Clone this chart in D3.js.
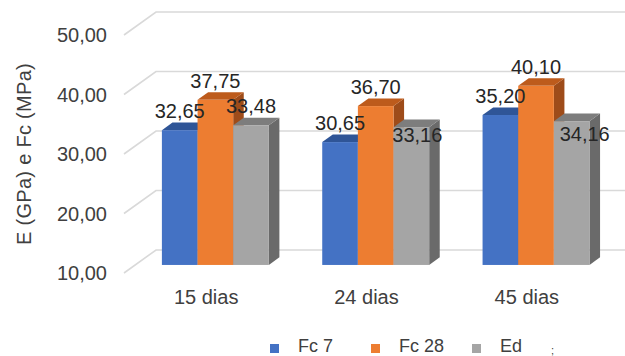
<!DOCTYPE html>
<html>
<head>
<meta charset="utf-8">
<script src="https://cdn.jsdelivr.net/npm/d3@7/dist/d3.min.js"></script>
<style>
  html, body { margin: 0; padding: 0; background: #fff; }
  svg { display: block; font-family: Arial, "Liberation Sans", sans-serif; }
</style>
</head>
<body>
<svg id="chart" width="625" height="356"></svg>
<script>
// Ages of the specimens
const categories = ["15 dias", "24 dias", "45 dias"];
// Series
const seriesNames = ["Fc 7", "Fc 28", "Ed"];
const fc7  = [32.65, 30.65, 35.20];
const fc28 = [37.75, 36.70, 40.10];
const ed   = [33.48, 33.16, 34.16];
// Value axis
const yTicks = [10, 20, 30, 40, 50];
const yDomain = [10, 50];

const seriesValues = [fc7, fc28, ed];

// Face colours: front, top, side
const palette = [
  { front: "#4472C4", top: "#2F5597", side: "#284A86" },
  { front: "#ED7D31", top: "#BD5B1C", side: "#9E4C1A" },
  { front: "#A5A5A5", top: "#7D7D7D", side: "#6A6A6A" }
];

const svg = d3.select("#chart");
const W = 625, H = 356;

// Oblique projection of the 3-D plot box
const DX = 32, DY = -23;          // full wall depth offset
const zBar = 0.35, zDepth = 0.33;  // bar front plane and bar thickness (fraction of depth)

const x = d3.scaleBand().domain(categories).range([124, 605]).padding(0);
const y = d3.scaleLinear().domain(yDomain).range([273, 35]);
const groupFrac = 0.667;
const inner = d3.scaleBand().domain(seriesNames).range([0, x.bandwidth() * groupFrac]).padding(0);

const px = (xv, z) => xv + z * DX;
const py = (v, z) => y(v) + z * DY;

const loc = d3.formatLocale({ decimal: ",", thousands: ".", grouping: [3], currency: ["", ""] });
const fmt = loc.format(".2f");

// Gridlines: slanted on the left wall, horizontal on the back wall
const grid = svg.append("g").attr("stroke", "#D9D9D9").attr("stroke-width", 1.6).attr("fill", "none");
yTicks.forEach(t => {
  grid.append("path").attr("d",
    `M${px(x.range()[0], 0)},${py(t, 0)} L${px(x.range()[0], 1)},${py(t, 1)} L${px(x.range()[1], 1)},${py(t, 1)}`);
});

// Y tick labels
svg.append("g").selectAll("text").data(yTicks).join("text")
  .attr("x", 107).attr("y", d => y(d)).attr("dy", "0.36em")
  .attr("text-anchor", "end").attr("font-size", 20).attr("fill", "#404040")
  .text(d => fmt(d));

// Y axis title
svg.append("text")
  .attr("transform", "translate(31,154) rotate(-90)")
  .attr("text-anchor", "middle").attr("font-size", 20).attr("fill", "#404040")
  .attr("letter-spacing", 0.3)
  .text("E (GPa) e Fc (MPa)");

// Bars as prisms
const bars = svg.append("g");
const labelData = [];
categories.forEach((cat, ci) => {
  const gx = x(cat) + (x.bandwidth() * (1 - groupFrac)) / 2;
  seriesNames.forEach((s, si) => {
    const v = seriesValues[si][ci];
    const x0 = gx + inner(s), x1 = x0 + inner.bandwidth();
    const z0 = zBar, z1 = zBar + zDepth;
    const c = palette[si];
    const g = bars.append("g");
    // side face
    g.append("path").attr("fill", c.side).attr("d",
      `M${px(x1, z0)},${py(yDomain[0], z0)} L${px(x1, z1)},${py(yDomain[0], z1)} L${px(x1, z1)},${py(v, z1)} L${px(x1, z0)},${py(v, z0)}Z`);
    // top face
    g.append("path").attr("fill", c.top).attr("d",
      `M${px(x0, z0)},${py(v, z0)} L${px(x1, z0)},${py(v, z0)} L${px(x1, z1)},${py(v, z1)} L${px(x0, z1)},${py(v, z1)}Z`);
    // front face
    g.append("rect").attr("fill", c.front)
      .attr("x", px(x0, z0)).attr("y", py(v, z0))
      .attr("width", x1 - x0).attr("height", py(yDomain[0], z0) - py(v, z0));
    labelData.push({ cat, s, v, cx: px((x0 + x1) / 2, z0), cy: py(v, z0) });
  });
});

// Data labels; two Ed labels sit lower to stay clear of the taller neighbours
const labelNudge = { "Ed|24 dias": [6, 27], "Ed|45 dias": [13, 32] };
svg.append("g").selectAll("text").data(labelData).join("text")
  .attr("x", d => d.cx + ((labelNudge[d.s + "|" + d.cat] || [0, 0])[0]))
  .attr("y", d => d.cy - 19 + ((labelNudge[d.s + "|" + d.cat] || [0, 0])[1]))
  .attr("dy", "0.36em").attr("text-anchor", "middle")
  .attr("font-size", 20).attr("fill", "#262626")
  .text(d => fmt(d.v));

// Category labels on the front edge
svg.append("g").selectAll("text").data(categories).join("text")
  .attr("x", d => x(d) + x.bandwidth() / 2 + 2).attr("y", 297).attr("dy", "0.36em")
  .attr("text-anchor", "middle").attr("font-size", 20).attr("fill", "#404040")
  .text(d => d);

// Legend
const legendX = [270, 371, 472];
const legend = svg.append("g");
seriesNames.forEach((s, i) => {
  legend.append("rect").attr("x", legendX[i]).attr("y", 344).attr("width", 9).attr("height", 9)
    .attr("fill", palette[i].front);
  legend.append("text").attr("x", legendX[i] + 28).attr("y", 352)
    .attr("font-size", 18).attr("fill", "#404040").text(s);
});
legend.append("text").attr("x", 551).attr("y", 354).attr("font-size", 11).attr("fill", "#404040").text(";");
</script>
</body>
</html>
